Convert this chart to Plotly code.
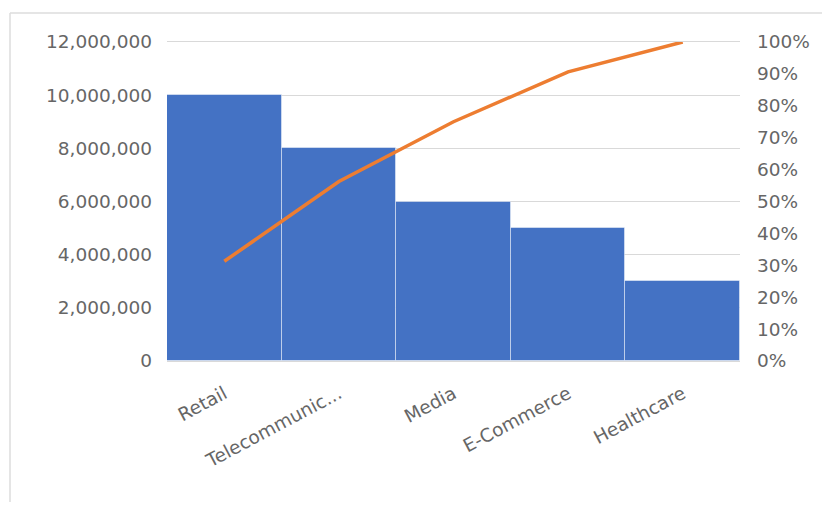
import plotly.graph_objects as go

categories = ["Retail", "Telecommunic...", "Media", "E-Commerce", "Healthcare"]
values = [10000000, 8000000, 6000000, 5000000, 3000000]
cumulative_pct = [0.3125, 0.5625, 0.75, 0.90625, 1.0]
left_ticks = [0, 2000000, 4000000, 6000000, 8000000, 10000000, 12000000]
right_ticks = [i / 10 for i in range(11)]

font_family = "'DejaVu Sans', sans-serif"
grey = "#666666"

# page body has an 8px margin; figure is sized to fit the window without scrollbars
PL, PT, PW, PH = 167, 42, 573, 319
OFF = 8
FW, FH = 830 - 2 * OFF, 510 - 2 * OFF


def px_x(x):
    return (x - PL) / PW


def px_y(y):
    return (PT + PH - y) / PH


fig = go.Figure()
fig.add_trace(go.Bar(
    x=categories, y=values, marker=dict(color="#4472C4", line=dict(color="rgba(255,255,255,0.45)", width=1)),
    showlegend=False, hoverinfo="x+y"))
fig.add_trace(go.Scatter(
    x=categories, y=cumulative_pct, mode="lines", yaxis="y2",
    line=dict(color="#ED7D31", width=3.5), showlegend=False))

border = dict(color="#DDDDDD", width=1.5)
fig.update_layout(
    width=FW, height=FH,
    margin=dict(l=PL - OFF, r=FW - (PL - OFF) - PW, t=PT - OFF, b=FH - (PT - OFF) - PH),
    paper_bgcolor="white", plot_bgcolor="white",
    bargap=0,
    font=dict(family=font_family, color=grey, size=18.5),
    xaxis=dict(tickangle=-28, tickfont=dict(size=18.5, color=grey), showline=True, mirror=True,
               linecolor="#D9D9D9", linewidth=1, ticks="", showgrid=False, automargin=False,
               ticklabelstandoff=14),
    yaxis=dict(range=[0, 12000000], tickvals=left_ticks, tickformat=",d", showgrid=True,
               gridcolor="#D9D9D9", gridwidth=1, zeroline=False, ticks="", automargin=False,
               ticklabelstandoff=14, tickfont=dict(size=18.5, color=grey)),
    yaxis2=dict(range=[0, 1], tickvals=right_ticks, tickformat=".0%", overlaying="y", side="right",
                showgrid=False, zeroline=False, ticks="", ticklabelstandoff=16, automargin=False,
                tickfont=dict(size=18.5, color=grey)),
    shapes=[
        dict(type="line", xref="paper", yref="paper", x0=px_x(10), x1=px_x(840),
             y0=px_y(13), y1=px_y(13), line=border, layer="below"),
        dict(type="line", xref="paper", yref="paper", x0=px_x(10), x1=px_x(10),
             y0=px_y(13), y1=px_y(520), line=border, layer="below"),
    ],
)

fig.write_html("out.html")
